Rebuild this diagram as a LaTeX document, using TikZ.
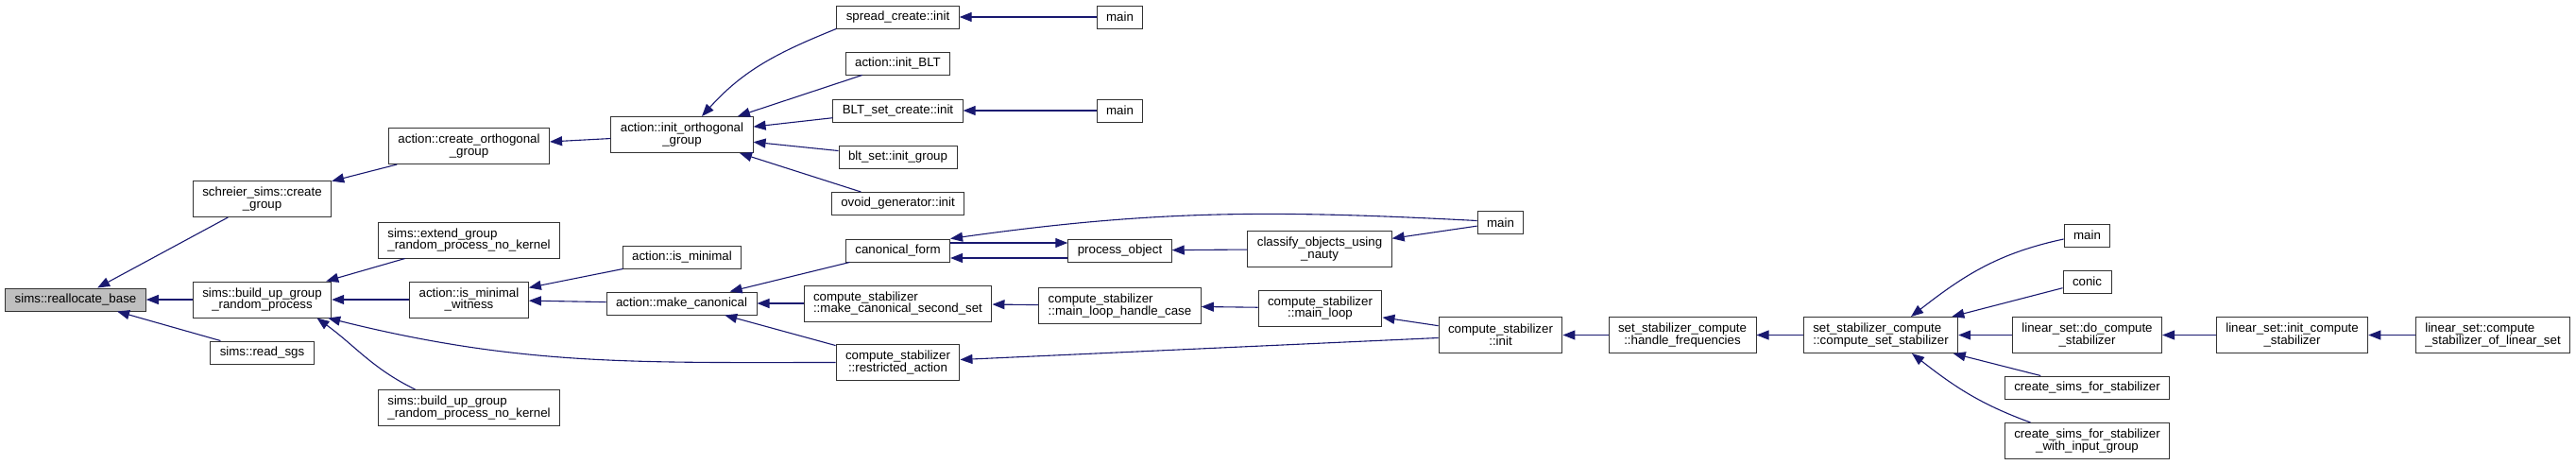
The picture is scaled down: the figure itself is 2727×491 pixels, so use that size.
\documentclass[tikz,border=0pt]{standalone}
\usepackage{fontspec}
\setmainfont{Liberation Sans}
\usetikzlibrary{arrows.meta}
\definecolor{calledge}{HTML}{191970}
\definecolor{curfill}{HTML}{BFBFBF}
\tikzset{
  fn/.style={draw=black!80, line width=1pt, fill=white, inner xsep=10pt, inner ysep=1pt,
    minimum height=24pt, font=\fontsize{13.3}{12.7}\selectfont},
  tall/.style={minimum height=38pt},
  call/.style={draw=calledge, line width=1.1pt, -{Triangle[length=13pt,width=10pt]}}
}
\begin{document}
\begin{tikzpicture}[x=1pt,y=1pt]
\useasboundingbox (0,0) rectangle (2727,-491);
% column 1-3
\node[fn,fill=curfill] (reallocate) at (80,-317) {sims::reallocate\_base};
\node[fn,tall,align=center] (schreier) at (277.5,-210.5) {schreier\_sims::create\\\_group};
\node[fn,tall,align=center] (buildup) at (277.5,-317) {sims::build\_up\_group\\\_random\_process};
\node[fn] (readsgs) at (277.5,-373) {sims::read\_sgs};
\node[fn,tall,align=center] (createorth) at (496.5,-154.5) {action::create\_orthogonal\\\_group};
\node[fn,tall,align=left] (extend) at (496.5,-254) {sims::extend\_group\\\_random\_process\_no\_kernel};
\node[fn,tall,align=center] (witness) at (496.5,-317) {action::is\_minimal\\\_witness};
\node[fn,tall,align=left] (nokernel) at (496.5,-431.5) {sims::build\_up\_group\\\_random\_process\_no\_kernel};
% column 4-6
\node[fn,tall,align=center] (initorth) at (722,-142.5) {action::init\_orthogonal\\\_group};
\node[fn] (isminimal) at (722,-272) {action::is\_minimal};
\node[fn] (makecanon) at (721.5,-321) {action::make\_canonical};
\node[fn] (spread) at (950.5,-18) {spread\_create::init};
\node[fn] (initblt) at (950.5,-67) {action::init\_BLT};
\node[fn] (bltcreate) at (950.5,-117) {BLT\_set\_create::init};
\node[fn] (bltgroup) at (950.5,-166) {blt\_set::init\_group};
\node[fn] (ovoid) at (950.5,-215.5) {ovoid\_generator::init};
\node[fn] (canon) at (950.5,-265) {canonical\_form};
\node[fn,tall,align=left] (secondset) at (950.5,-321) {compute\_stabilizer\\::make\_canonical\_second\_set};
\node[fn,tall,align=center] (restricted) at (950.5,-383.5) {compute\_stabilizer\\::restricted\_action};
\node[fn] (mainA) at (1185.5,-18) {main};
\node[fn] (mainB) at (1185.5,-117) {main};
\node[fn] (process) at (1185.5,-265) {process\_object};
\node[fn,tall,align=left] (handlecase) at (1185.5,-323.5) {compute\_stabilizer\\::main\_loop\_handle\_case};
% column 7-9
\node[fn,tall,align=center] (classify) at (1397,-263.5) {classify\_objects\_using\\\_nauty};
\node[fn,tall,align=center] (mainloop) at (1397.5,-326) {compute\_stabilizer\\::main\_loop};
\node[fn] (mainC) at (1588.5,-235.5) {main};
\node[fn,tall,align=center] (csinit) at (1588.5,-354.5) {compute\_stabilizer\\::init};
\node[fn,tall,align=center] (handlefreq) at (1781,-354.5) {set\_stabilizer\_compute\\::handle\_frequencies};
\node[fn,tall,align=left] (setstab) at (1991,-354.5) {set\_stabilizer\_compute\\::compute\_set\_stabilizer};
% column 10-12
\node[fn] (mainD) at (2209.5,-249) {main};
\node[fn] (conic) at (2209.5,-298) {conic};
\node[fn,tall,align=center] (docompute) at (2209.5,-354.5) {linear\_set::do\_compute\\\_stabilizer};
\node[fn] (simsstab) at (2209.5,-410) {create\_sims\_for\_stabilizer};
\node[fn,tall,align=center] (simsinput) at (2209.5,-466.5) {create\_sims\_for\_stabilizer\\\_with\_input\_group};
\node[fn,tall,align=center] (initcompute) at (2426.5,-354.5) {linear\_set::init\_compute\\\_stabilizer};
\node[fn,tall,align=left] (linearset) at (2639,-354.5) {linear\_set::compute\\\_stabilizer\_of\_linear\_set};
% calls
\draw[call] (schreier) -- (reallocate);
\draw[call] (buildup) -- (reallocate);
\draw[call] (readsgs) -- (reallocate);
\draw[call] (createorth) -- (schreier);
\draw[call] (initorth) -- (createorth);
\draw[call] (spread.south west) to[out=202,in=48] ([xshift=21]initorth.north);
\draw[call] (initblt) -- (initorth);
\draw[call] (bltcreate) -- (initorth);
\draw[call] (bltgroup) -- (initorth);
\draw[call] (ovoid) -- (initorth);
\draw[call] (mainA) -- (spread);
\draw[call] (mainB) -- (bltcreate);
\draw[call] (extend) -- (buildup);
\draw[call] (witness) -- (buildup);
\draw[call] (restricted.west) to[out=180,in=-14] ([xshift=-4]buildup.south east);
\draw[call] ([xshift=-57]nokernel.north) to[out=154,in=-36] ([xshift=58]buildup.south);
\draw[call] (isminimal) -- (witness);
\draw[call] (makecanon) -- (witness);
\draw[call] (canon) -- (makecanon);
\draw[call] (secondset) -- (makecanon);
\draw[call] (restricted) -- (makecanon);
\draw[call] ([yshift=8]canon.east) -- ([yshift=8]process.west);
\draw[call] ([yshift=-8]process.west) -- ([yshift=-8]canon.east);
\draw[call] ([yshift=2]mainC.west) to[out=177,in=8] (canon.north east);
\draw[call] (classify) -- (process);
\draw[call] (mainC) -- (classify);
\draw[call] (handlecase) -- (secondset);
\draw[call] (mainloop) -- (handlecase);
\draw[call] (csinit) -- (mainloop);
\draw[call] (csinit) -- (restricted);
\draw[call] (handlefreq) -- (csinit);
\draw[call] (setstab) -- (handlefreq);
\draw[call] ([yshift=-4]mainD.west) to[out=192,in=38] ([xshift=32]setstab.north);
\draw[call] (conic) -- (setstab);
\draw[call] (docompute) -- (setstab);
\draw[call] (simsstab) -- (setstab);
\draw[call] ([xshift=-60]simsinput.north) to[out=160,in=-38] ([xshift=33]setstab.south);
\draw[call] (initcompute) -- (docompute);
\draw[call] (linearset) -- (initcompute);
\end{tikzpicture}
\end{document}
